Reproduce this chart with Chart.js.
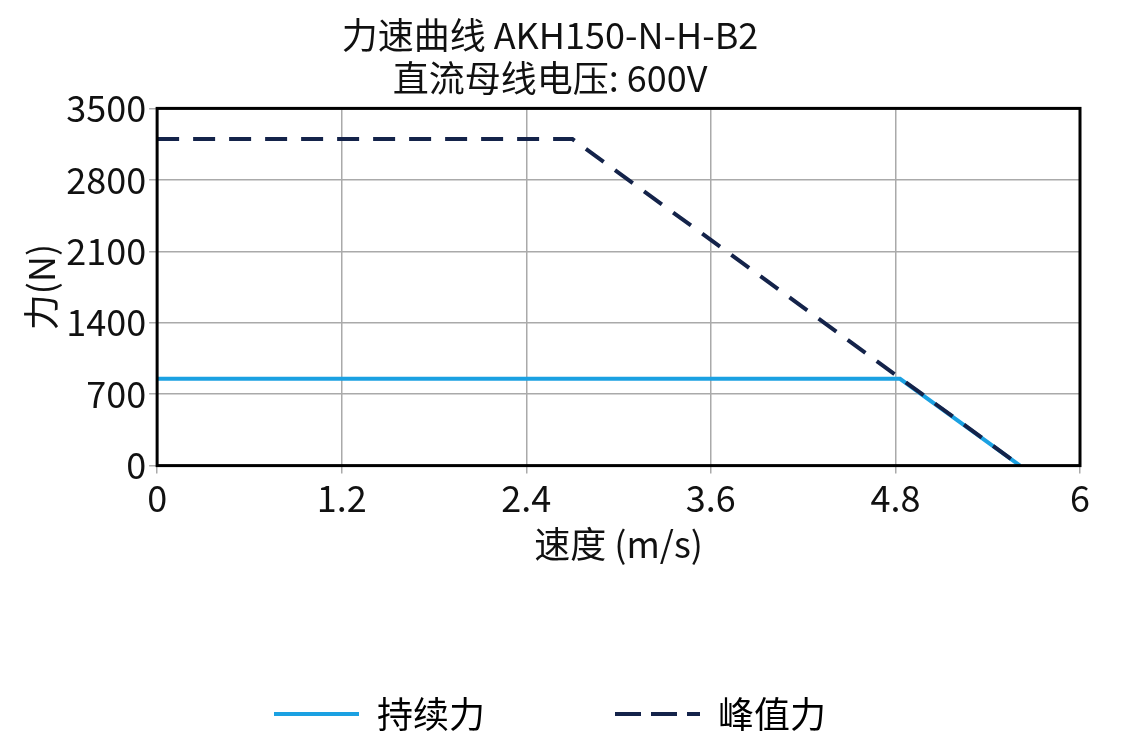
<!DOCTYPE html>
<html><head><meta charset="utf-8">
<script src="https://cdn.jsdelivr.net/npm/chart.js@4"></script>
<style>body{margin:0;background:#fff}#w{width:1148px;height:742px}</style>
</head><body><div id="w"><canvas id="c"></canvas></div>
<script>
const contX=[0,4.83,5.61];
const contY=[850,850,0];
const peakX=[0,2.7,5.61];
const peakY=[3200,3200,0];
const xTicks=[0,1.2,2.4,3.6,4.8,6];
const yTicks=[0,700,1400,2100,2800,3500];
const F='"Noto Sans CJK SC", sans-serif';
const border={id:'b',afterDraw(c){const a=c.chartArea,x=c.ctx;x.save();x.strokeStyle='#000';x.lineWidth=3;x.strokeRect(a.left,a.top,a.right-a.left,a.bottom-a.top);x.restore();}};
new Chart(document.getElementById('c'),{type:'scatter',
data:{datasets:[
{label:'持续力',order:2,data:contX.map((v,i)=>({x:v,y:contY[i]})),showLine:true,borderColor:'#1ba1e2',backgroundColor:'#1ba1e2',borderWidth:4,pointRadius:0},
{label:'峰值力',order:1,data:peakX.map((v,i)=>({x:v,y:peakY[i]})),showLine:true,borderColor:'#14234a',backgroundColor:'#14234a',borderWidth:4,borderDash:[22,14],pointRadius:0}
]},
options:{responsive:true,maintainAspectRatio:false,animation:false,
layout:{padding:{left:20,right:68,top:14,bottom:0}},
plugins:{title:{display:true,text:['力速曲线 AKH150-N-H-B2','直流母线电压: 600V'],color:'#111',font:{family:F,size:36,weight:'normal'},padding:{bottom:8},lineHeight:1.12},
legend:{position:'bottom',labels:{font:{family:F,size:36},color:'#111',boxWidth:85,boxHeight:0,padding:130,generateLabels(c){return c.data.datasets.map((d,i)=>({text:d.label,strokeStyle:d.borderColor,fillStyle:d.borderColor,lineWidth:4,lineDash:d.borderDash||[],datasetIndex:i}));}}},
tooltip:{enabled:false}},
scales:{
x:{type:'linear',min:0,max:6,afterBuildTicks(s){s.ticks=xTicks.map(v=>({value:v}));},ticks:{color:'#111',font:{family:F,size:36},callback:v=>String(v)},grid:{color:'#aaa',lineWidth:1.5},title:{display:true,text:'速度 (m/s)',color:'#111',font:{family:F,size:36},padding:0}},
y:{min:0,max:3500,afterBuildTicks(s){s.ticks=yTicks.map(v=>({value:v}));},ticks:{color:'#111',font:{family:F,size:36},callback:v=>String(v)},grid:{color:'#aaa',lineWidth:1.5},title:{display:true,text:'力(N)',color:'#111',font:{family:F,size:36},padding:0}}
}}, plugins:[border]});
</script></body></html>
